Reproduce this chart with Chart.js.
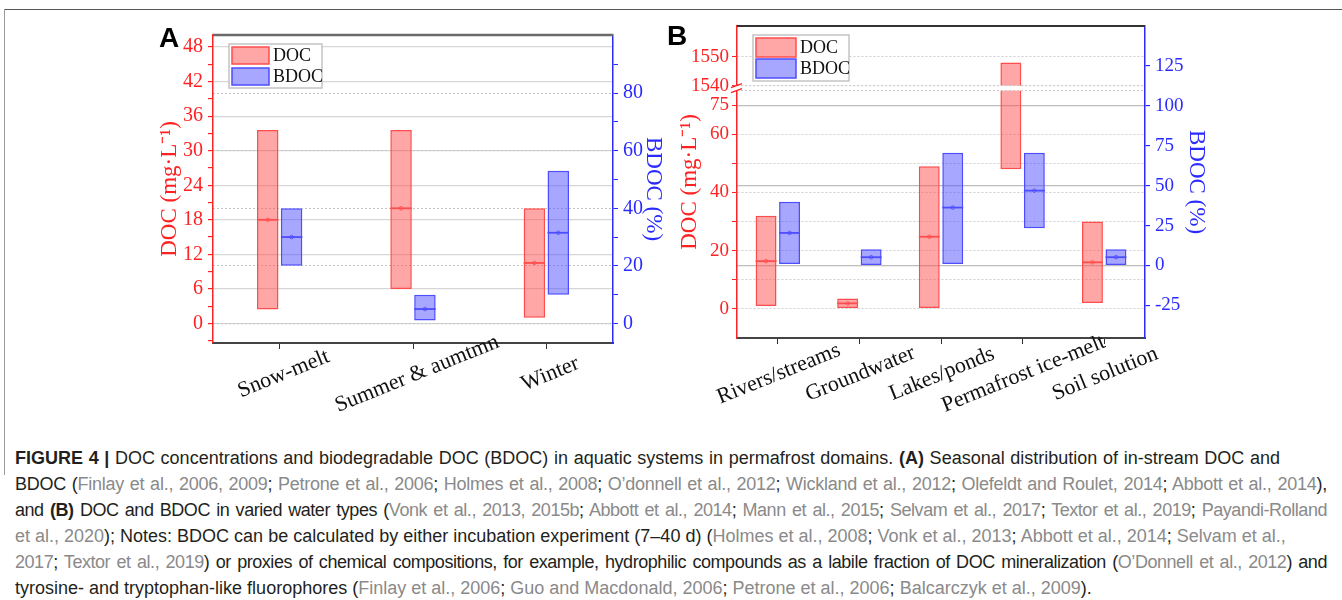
<!DOCTYPE html>
<html>
<head>
<meta charset="utf-8">
<script src="https://cdn.jsdelivr.net/npm/chart.js@4.4.0/dist/chart.umd.min.js"></script>
<style>
  body { margin: 0; background: #fff; width: 1342px; height: 600px; position: relative; overflow: hidden;
         font-family: "Liberation Sans", Arial, sans-serif; }
  #frameTop { position: absolute; left: 4px; top: 9px; width: 1338px; height: 1px; background: #555; }
  #frameLeft { position: absolute; left: 4px; top: 9px; width: 1px; height: 466px; background: #999; }
  #wrapA { position: absolute; left: 100px; top: 0; }
  #wrapB { position: absolute; left: 660px; top: 0; }
  .letter { position: absolute; font: bold 28px/28px "Liberation Sans", Arial, sans-serif; color: #000; }
  .caption { position: absolute; left: 15px; top: 445px; font-size: 18px; line-height: 26px; color: #231f20; }
  .caption div { white-space: nowrap; text-align: justify; text-align-last: justify; }
  .c { color: #8a8a8a; }
</style>
</head>
<body>
<div id="frameTop"></div>
<div id="frameLeft"></div>
<div id="wrapA"><canvas id="chartA" width="580" height="440"></canvas></div>
<div id="wrapB"><canvas id="chartB" width="600" height="440"></canvas></div>
<div class="letter" style="left:159px;top:24px">A</div>
<div class="letter" style="left:667px;top:22px">B</div>

<div class="caption">
  <div style="width:1265px"><b>FIGURE 4 |</b> DOC concentrations and biodegradable DOC (BDOC) in aquatic systems in permafrost domains. <b>(A)</b> Seasonal distribution of in-stream DOC and</div>
  <div style="width:1312px;letter-spacing:-0.25px">BDOC (<span class="c">Finlay et al., 2006, 2009</span>; <span class="c">Petrone et al., 2006</span>; <span class="c">Holmes et al., 2008</span>; <span class="c">O’donnell et al., 2012</span>; <span class="c">Wickland et al., 2012</span>; <span class="c">Olefeldt and Roulet, 2014</span>; <span class="c">Abbott et al., 2014</span>),</div>
  <div style="width:1312px;letter-spacing:-0.45px">and <b>(B)</b> DOC and BDOC in varied water types (<span class="c">Vonk et al., 2013, 2015b</span>; <span class="c">Abbott et al., 2014</span>; <span class="c">Mann et al., 2015</span>; <span class="c">Selvam et al., 2017</span>; <span class="c">Textor et al., 2019</span>; <span class="c">Payandi-Rolland</span></div>
  <div style="width:1140px"><span class="c">et al., 2020</span>); Notes: BDOC can be calculated by either incubation experiment (7–40 d) (<span class="c">Holmes et al., 2008</span>; <span class="c">Vonk et al., 2013</span>; <span class="c">Abbott et al., 2014</span>; <span class="c">Selvam et al.,</span></div>
  <div style="width:1312px;letter-spacing:-0.45px"><span class="c">2017</span>; <span class="c">Textor et al., 2019</span>) or proxies of chemical compositions, for example, hydrophilic compounds as a labile fraction of DOC mineralization (<span class="c">O’Donnell et al., 2012</span>) and</div>
  <div style="width:945px">tyrosine- and tryptophan-like fluorophores (<span class="c">Finlay et al., 2006</span>; <span class="c">Guo and Macdonald, 2006</span>; <span class="c">Petrone et al., 2006</span>; <span class="c">Balcarczyk et al., 2009</span>).</div>
</div>

<script>
// ---- panel A: seasons ----
const seasons = ["Snow-melt", "Summer & aumtmn", "Winter"];
const docLowA  = [2.4, 6.0, 1.0];
const docHighA = [33.6, 33.6, 20.0];
const docMedA  = [18.0, 20.0, 10.5];
const bdocLowA  = [20, 1, 10];
const bdocHighA = [40, 10, 53];
const bdocMedA  = [30, 5, 31.5];
const docTicksA  = [0, 6, 12, 18, 24, 30, 36, 42, 48];
const docMinorA  = [-3, 3, 9, 15, 21, 27, 33, 39, 45];
const bdocTicksA = [0, 20, 40, 60, 80];
const bdocMinorA = [10, 30, 50, 70, 90];

// ---- panel B: water types ----
const waterTypes = ["Rivers/streams", "Groundwater", "Lakes/ponds", "Permafrost ice-melt", "Soil solution"];
const docLowB  = [1, 0.3, 0.3, 48, 2];
const docHighB = [32, 3.6, 49, 1548, 30];
const docMedB  = [16.4, 1.9, 24.8, null, 16];
const bdocLowB  = [1, 0, 1, 23.4, 0];
const bdocHighB = [40, 10.2, 70.6, 70.6, 10.2];
const bdocMedB  = [20.4, 5.2, 36.3, 46.9, 5.2];
const docTicksB  = [0, 20, 40, 60, 75, 1540, 1550];
const docMinorB  = [10, 30, 50];
const bdocTicksB = [-25, 0, 25, 50, 75, 100, 125];

const RED = '#ff2222', BLUE = '#2b2bff';
const docFill = 'rgba(255, 80, 80, 0.5)', docLine = '#ff4d4d';
const bdocFill = 'rgba(80, 80, 255, 0.5)', bdocLine = '#4d4dff';
const serif = '"Liberation Serif", "Times New Roman", serif';

// DOC axis of panel B is broken: 60-75 squeezed, then jumps to 1540
function brk(v) {
  if (v == null) return null;
  if (v <= 60) return v;
  if (v <= 75) return 60 + (v - 60) * 2 / 3;
  return v - 1540 + 76.7;
}

function tickSetter(major, minor, map) {
  map = map || (v => v);
  return scale => {
    scale.ticks = major.map(v => ({ value: map(v), real: v, big: true }))
      .concat(minor.map(v => ({ value: map(v), real: v, big: false })))
      .sort((a, b) => a.value - b.value);
  };
}
const tickLabel = (v, i, ticks) => ticks[i].big ? String(ticks[i].real) : '';

// median line + small marker inside each box
const medianMarks = {
  id: 'medianMarks',
  afterDatasetsDraw(chart) {
    const ctx = chart.ctx;
    chart.data.datasets.forEach((ds, d) => {
      const meta = chart.getDatasetMeta(d);
      const ys = chart.scales[meta.yAxisID];
      meta.data.forEach((bar, i) => {
        const m = ds.medians[i];
        if (m == null) return;
        const y = ys.getPixelForValue(m);
        const half = bar.width / 2;
        ctx.save();
        ctx.strokeStyle = ds.borderColor;
        ctx.lineWidth = 1.8;
        ctx.beginPath(); ctx.moveTo(bar.x - half, y); ctx.lineTo(bar.x + half, y); ctx.stroke();
        ctx.lineWidth = 0.8;
        ctx.beginPath(); ctx.arc(bar.x, y, 1.8, 0, Math.PI * 2); ctx.stroke();
        ctx.restore();
      });
    });
  }
};

// legend box inside the plot
const boxLegend = {
  id: 'boxLegend',
  afterDatasetsDraw(chart, args, o) {
    const { ctx, chartArea: a } = chart;
    const x = a.left + o.dx, y = a.top + o.dy;
    ctx.save();
    ctx.fillStyle = '#fff';
    ctx.fillRect(x, y, o.w, o.h);
    ctx.strokeStyle = '#c4c4c4'; ctx.lineWidth = 1.5;
    ctx.strokeRect(x, y, o.w, o.h);
    ctx.font = o.labelFont; ctx.textBaseline = 'middle';
    chart.data.datasets.forEach((ds, i) => {
      const sy = y + 3 + i * (o.sh + o.gap);
      ctx.fillStyle = ds.backgroundColor; ctx.fillRect(x + 3, sy, o.sw, o.sh);
      ctx.strokeStyle = ds.borderColor; ctx.lineWidth = 1.5; ctx.strokeRect(x + 3, sy, o.sw, o.sh);
      ctx.fillStyle = '#111'; ctx.fillText(ds.label, x + o.sw + 7, sy + o.sh / 2 + 1);
    });
    ctx.restore();
  }
};

// slanted category labels, centred on the tick
const slantLabels = {
  id: 'slantLabels',
  afterDraw(chart, args, o) {
    const { ctx, chartArea: a } = chart;
    const xs = chart.scales.x;
    ctx.save();
    ctx.font = o.labelFont; ctx.fillStyle = '#111';
    ctx.textAlign = 'center'; ctx.textBaseline = 'middle';
    chart.data.labels.forEach((lab, i) => {
      ctx.save();
      ctx.translate(xs.getPixelForTick(i) + o.dx, a.bottom + o.dy);
      ctx.rotate(-o.angle * Math.PI / 180);
      ctx.fillText(lab, 0, 0);
      ctx.restore();
    });
    ctx.restore();
  }
};

// top frame line of the plot box
const topLine = {
  id: 'topLine',
  afterDraw(chart, args, o) {
    const { ctx, chartArea: a } = chart;
    ctx.save();
    ctx.strokeStyle = o.color; ctx.lineWidth = o.width;
    ctx.beginPath(); ctx.moveTo(a.left, a.top); ctx.lineTo(a.right, a.top); ctx.stroke();
    ctx.restore();
  }
};

// white band + break mark for the broken DOC axis
const axisBreak = {
  id: 'axisBreak',
  afterDatasetsDraw(chart, args, o) {
    const { ctx, chartArea: a } = chart;
    const ys = chart.scales.y;
    const yTop = ys.getPixelForValue(o.hi), yBot = ys.getPixelForValue(o.lo);
    ctx.save();
    ctx.fillStyle = '#fff';
    ctx.fillRect(a.left + 1, yTop, a.right - a.left - 2, yBot - yTop);
    ctx.strokeStyle = '#c8c8c8'; ctx.lineWidth = 1; ctx.setLineDash([2, 2]);
    [yTop, yBot].forEach(y => { ctx.beginPath(); ctx.moveTo(a.left, y); ctx.lineTo(a.right, y); ctx.stroke(); });
    ctx.setLineDash([]);
    ctx.fillStyle = '#fff';
    ctx.fillRect(a.left - 3, yTop, 6, yBot - yTop);
    ctx.strokeStyle = RED; ctx.lineWidth = 1.3;
    [yTop, yBot].forEach(y => { ctx.beginPath(); ctx.moveTo(a.left - 6, y + 2); ctx.lineTo(a.left + 5, y - 2); ctx.stroke(); });
    ctx.restore();
  }
};

function xAxis(height) {
  return {
    offset: true,
    ticks: { display: false },
    grid: { display: true, drawOnChartArea: false, drawTicks: true, tickLength: 6, tickColor: '#333', offset: false },
    border: { color: '#444', width: 2 },
    afterFit: s => { s.height = height; }
  };
}

// ---------- chart A ----------
new Chart(document.getElementById('chartA'), {
  type: 'bar',
  data: {
    labels: seasons,
    datasets: [
      { label: 'DOC', data: docLowA.map((lo, i) => [lo, docHighA[i]]), medians: docMedA,
        backgroundColor: docFill, borderColor: docLine, borderWidth: 1.5, borderSkipped: false,
        yAxisID: 'y', barPercentage: 0.9, categoryPercentage: 0.358 },
      { label: 'BDOC', data: bdocLowA.map((lo, i) => [lo, bdocHighA[i]]), medians: bdocMedA,
        backgroundColor: bdocFill, borderColor: bdocLine, borderWidth: 1.5, borderSkipped: false,
        yAxisID: 'y1', barPercentage: 0.9, categoryPercentage: 0.358 }
    ]
  },
  options: {
    responsive: false,
    animation: false,
    layout: { padding: { top: 35, left: 0, right: 0, bottom: 0 } },
    plugins: {
      legend: { display: false },
      tooltip: { enabled: false },
      boxLegend: { dx: 16, dy: 9, w: 93, h: 44, sw: 37, sh: 17, gap: 4, labelFont: '18px ' + serif },
      slantLabels: { dx: 4, dy: 31, angle: 22, labelFont: '22px ' + serif },
      topLine: { color: '#6a6a6a', width: 2.5 }
    },
    scales: {
      x: xAxis(97),
      y: {
        position: 'left', min: -3.4, max: 50.1,
        afterBuildTicks: tickSetter(docTicksA, docMinorA),
        ticks: { autoSkip: false, color: RED, font: { family: serif, size: 20 }, padding: 5, callback: tickLabel },
        grid: { color: c => c.tick && c.tick.big ? '#d6d6d6' : 'rgba(0,0,0,0)', lineWidth: 1.2,
                tickColor: RED, tickLength: 5 },
        border: { color: RED, width: 1.5 },
        title: { display: true, text: 'DOC (mg·L⁻¹)', color: RED, font: { family: serif, size: 23 }, padding: { top: 56 } },
        afterFit: s => { s.width = 113; }
      },
      y1: {
        position: 'right', min: -6.8, max: 100.2,
        afterBuildTicks: tickSetter(bdocTicksA, bdocMinorA),
        ticks: { autoSkip: false, color: BLUE, font: { family: serif, size: 20 }, padding: 5, callback: tickLabel },
        grid: { color: c => c.tick && c.tick.big ? '#c4c4c4' : 'rgba(0,0,0,0)', lineWidth: 1,
                tickColor: BLUE, tickLength: 5 },
        border: { color: BLUE, width: 1.5, dash: [2, 2] },
        title: { display: true, text: 'BDOC (%)', color: BLUE, font: { family: serif, size: 23 }, padding: { top: 13 } },
        afterFit: s => { s.width = 67; }
      }
    }
  },
  plugins: [medianMarks, boxLegend, slantLabels, topLine]
});

// ---------- chart B ----------
new Chart(document.getElementById('chartB'), {
  type: 'bar',
  data: {
    labels: waterTypes,
    datasets: [
      { label: 'DOC', data: docLowB.map((lo, i) => [brk(lo), brk(docHighB[i])]), medians: docMedB.map(brk),
        backgroundColor: docFill, borderColor: docLine, borderWidth: 1.5, borderSkipped: false,
        yAxisID: 'y', barPercentage: 0.89, categoryPercentage: 0.576 },
      { label: 'BDOC', data: bdocLowB.map((lo, i) => [lo, bdocHighB[i]]), medians: bdocMedB,
        backgroundColor: bdocFill, borderColor: bdocLine, borderWidth: 1.5, borderSkipped: false,
        yAxisID: 'y1', barPercentage: 0.89, categoryPercentage: 0.576 }
    ]
  },
  options: {
    responsive: false,
    animation: false,
    layout: { padding: { top: 26, left: 0, right: 0, bottom: 0 } },
    plugins: {
      legend: { display: false },
      tooltip: { enabled: false },
      boxLegend: { dx: 16, dy: 9, w: 96, h: 46, sw: 40, sh: 19, gap: 2, labelFont: '18px ' + serif },
      slantLabels: { dx: 1, dy: 36, angle: 22, labelFont: '22px ' + serif },
      topLine: { color: '#333', width: 1.8 },
      axisBreak: { lo: 75.0, hi: 76.7 }
    },
    scales: {
      x: xAxis(102),
      y: {
        position: 'left', min: -10, max: 97.2,
        afterBuildTicks: tickSetter(docTicksB, docMinorB, brk),
        ticks: { autoSkip: false, color: RED, font: { family: serif, size: 19 }, padding: 3, callback: tickLabel },
        grid: { color: c => c.tick && c.tick.real !== 75 ? '#cfcfcf' : 'rgba(0,0,0,0)', lineWidth: 1,
                tickColor: RED, tickLength: 5 },
        border: { color: RED, width: 1.5, dash: [2, 2] },
        title: { display: true, text: 'DOC (mg·L⁻¹)', color: RED, font: { family: serif, size: 23 }, padding: { top: 16 } },
        afterFit: s => { s.width = 77; }
      },
      y1: {
        position: 'right', min: -45.4, max: 150,
        afterBuildTicks: tickSetter(bdocTicksB, []),
        ticks: { autoSkip: false, color: BLUE, font: { family: serif, size: 19 }, padding: 5, callback: tickLabel },
        grid: { color: c => c.tick && c.tick.real % 50 === 0 ? '#bdbdbd' : 'rgba(0,0,0,0)', lineWidth: 1.2,
                tickColor: BLUE, tickLength: 5 },
        border: { color: BLUE, width: 1.5 },
        title: { display: true, text: 'BDOC (%)', color: BLUE, font: { family: serif, size: 23 }, padding: { top: 50 } },
        afterFit: s => { s.width = 115; }
      }
    }
  },
  plugins: [medianMarks, boxLegend, slantLabels, topLine, axisBreak]
});
</script>
</body>
</html>
